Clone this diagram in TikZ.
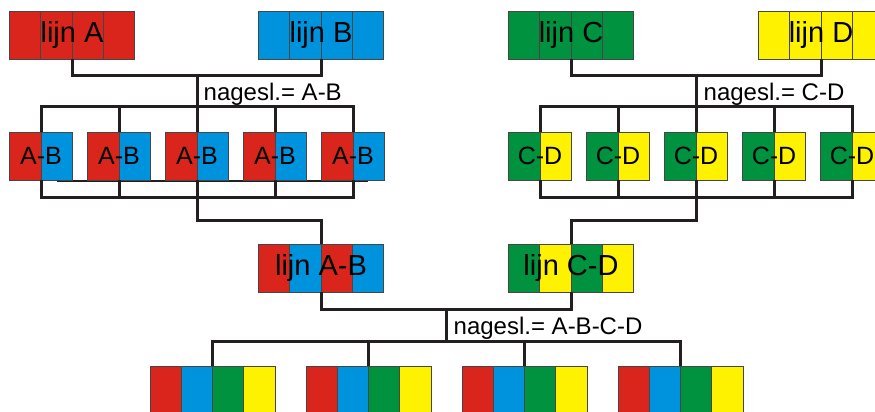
\documentclass[tikz,border=0pt]{standalone}
\usepackage{fontspec}
\setmainfont{Liberation Sans}
\usepackage{xcolor}
\usepackage{tikz}
\usetikzlibrary{calc}

\definecolor{lijnrood}{RGB}{218,37,29}
\definecolor{lijnblauw}{RGB}{0,147,221}
\definecolor{lijngroen}{RGB}{0,146,63}
\definecolor{lijngeel}{RGB}{255,242,0}
\definecolor{lijnzwart}{RGB}{35,31,32}
\definecolor{celrand}{RGB}{70,70,70}

\begin{document}
\begin{tikzpicture}[x=1pt, y=-1pt,
  verbinding/.style={draw=lijnzwart, line width=3pt},
  kleuren/.code={\def\kleuren{#1}},
  vak/.style={draw=celrand, line width=0.8pt, inner sep=0pt, minimum height=48pt,
    path picture={\foreach \kleur [count=\k from 0] in \kleuren
      \draw[celrand, line width=0.8pt, fill=\kleur] ([xshift=\k*31.3pt]path picture bounding box.north west) rectangle ++(31.3pt,-60pt);}},
  vak4/.style={vak, minimum width=125.2pt, font=\fontsize{29}{30}\selectfont},
  vak2/.style={vak, minimum width=62.6pt, font=\fontsize{25}{26}\selectfont},
  nagesl/.style={anchor=base west, inner sep=0pt, font=\fontsize{24}{26}\selectfont}]
  \clip (0,0) rectangle (875,412);
  % ouderlijnen
  \node[vak4, kleuren={lijnrood,lijnrood,lijnrood,lijnrood}] (lijnA) at (72,35) {lijn A};
  \node[vak4, kleuren={lijnblauw,lijnblauw,lijnblauw,lijnblauw}] (lijnB) at (321,35) {lijn B};
  \node[vak4, kleuren={lijngroen,lijngroen,lijngroen,lijngroen}] (lijnC) at (571,35) {lijn C};
  \node[vak4, kleuren={lijngeel,lijngeel,lijngeel,lijngeel}] (lijnD) at (821,35) {lijn D};
  % nakomelingen A-B en C-D
  \draw[lijnzwart, line width=2.6pt] ([xshift=16pt, yshift=-1pt]$(41,180)$) -- ([xshift=15pt, yshift=-1pt]$(353,180)$);
  \foreach \i in {1,...,5} {
    \node[vak2, kleuren={lijnrood,lijnblauw}] (ab\i) at ({41+78*(\i-1)},156) {A-B};
    \node[vak2, kleuren={lijngroen,lijngeel}] (cd\i) at ({540+78*(\i-1)},156) {C-D};
  }
  % lijnen A-B en C-D
  \node[vak4, kleuren={lijnrood,lijnblauw,lijnrood,lijnblauw}] (lijnAB) at (321,268) {lijn A-B};
  \node[vak4, kleuren={lijngroen,lijngeel,lijngroen,lijngeel}] (lijnCD) at (571,268) {lijn C-D};
  % nakomelingen A-B-C-D
  \foreach \i in {1,...,4}
    \node[vak4, kleuren={lijnrood,lijnblauw,lijngroen,lijngeel}] (abcd\i) at ({212.5+156*(\i-1)},390) {};
  % kruisingen
  \coordinate (kAB) at (197,75);
  \coordinate (kCD) at (696,75);
  \coordinate (kABCD) at (446,309);
  \draw[verbinding] (lijnA.south) |- (kAB) -| (lijnB.south);
  \draw[verbinding] (kAB) -- (ab3.north);
  \draw[verbinding] (ab1.north) -- ++(0,-25) -| (ab5.north);
  \draw[verbinding] (ab2.north) -- ++(0,-25);
  \draw[verbinding] (ab4.north) -- ++(0,-25);
  \draw[verbinding] (ab1.south) -- ++(0,17) -| (ab5.south);
  \draw[verbinding] (ab2.south) -- ++(0,17);
  \draw[verbinding] (ab4.south) -- ++(0,17);
  \draw[verbinding] (ab3.south) -- ++(0,40) -| (lijnAB.north);
  \draw[verbinding] (lijnC.south) |- (kCD) -| (lijnD.south);
  \draw[verbinding] (kCD) -- (cd3.north);
  \draw[verbinding] (cd1.north) -- ++(0,-25) -| (cd5.north);
  \draw[verbinding] (cd2.north) -- ++(0,-25);
  \draw[verbinding] (cd4.north) -- ++(0,-25);
  \draw[verbinding] (cd1.south) -- ++(0,17) -| (cd5.south);
  \draw[verbinding] (cd2.south) -- ++(0,17);
  \draw[verbinding] (cd4.south) -- ++(0,17);
  \draw[verbinding] (cd3.south) -- ++(0,40) -| (lijnCD.north);
  \draw[verbinding] (lijnAB.south) |- (kABCD) -| (lijnCD.south);
  \draw[verbinding] (kABCD) -- ++(0,33);
  \draw[verbinding] (abcd1.north) -- ++(0,-24) -| (abcd4.north);
  \draw[verbinding] (abcd2.north) -- ++(0,-24);
  \draw[verbinding] (abcd3.north) -- ++(0,-24);
  \node[nagesl] (tekstAB) at (203.5,100) {nagesl.= A-B};
  \node[nagesl] (tekstCD) at (703.5,100) {nagesl.= C-D};
  \node[nagesl] (tekstABCD) at (453.5,334) {nagesl.= A-B-C-D};
\end{tikzpicture}
\end{document}
